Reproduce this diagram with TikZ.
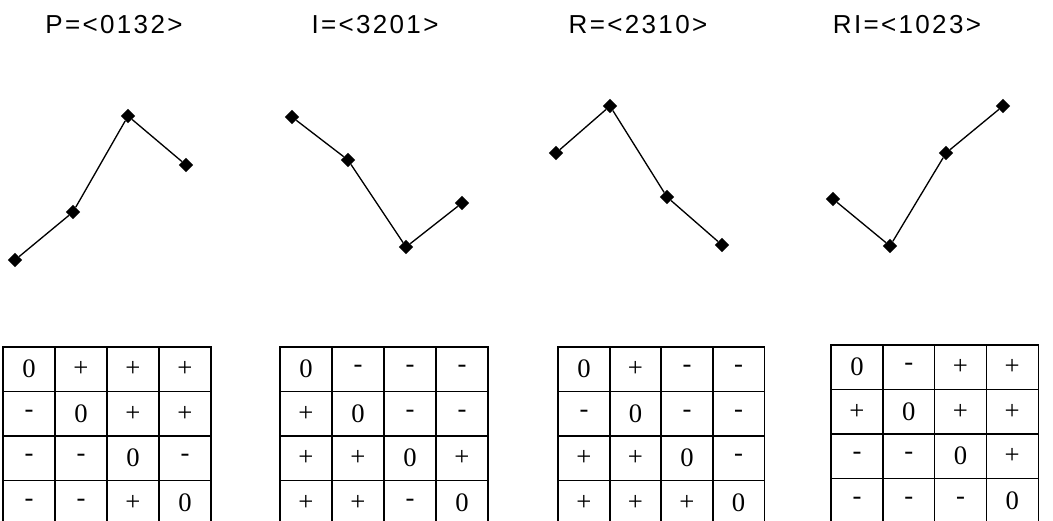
\documentclass[tikz,border=0pt]{standalone}
\usepackage{fontspec}
\setmainfont{Liberation Serif}
\setsansfont{Liberation Sans}
\usetikzlibrary{shapes.geometric,positioning}

\begin{document}
\begin{tikzpicture}[
    x=0.75pt, y=-0.75pt,
    title/.style={anchor=base, font=\sffamily\fontsize{19.5}{21}\selectfont\addfontfeature{LetterSpace=9}},
    point/.style={diamond, fill=black, inner sep=0pt, minimum size=11pt},
    contour/.style={line width=1pt},
    cell/.style={rectangle, draw, line width=1.1pt, inner sep=0pt, minimum width=39pt, minimum height=33.4pt, font=\fontsize{20}{22}\selectfont}
]
    \clip (0,0) rectangle (1053,521);

    % titles
    \node[title] (tP) at (114,33) {P=<0132>};
    \node[title] (tI) at (375,33) {I=<3201>};
    \node[title] (tR) at (638,33) {R=<2310>};
    \node[title] (tRI) at (907,33) {RI=<1023>};

    % contours
    \node[point] (P1) at (15,260) {};
    \node[point] (P2) at (73,212) {};
    \node[point] (P3) at (128,116) {};
    \node[point] (P4) at (186,165) {};
    \draw[contour] (P1) -- (P2) -- (P3) -- (P4);

    \node[point] (I1) at (292,117) {};
    \node[point] (I2) at (348,160) {};
    \node[point] (I3) at (406,247) {};
    \node[point] (I4) at (462,203) {};
    \draw[contour] (I1) -- (I2) -- (I3) -- (I4);

    \node[point] (R1) at (556,153) {};
    \node[point] (R2) at (610,106) {};
    \node[point] (R3) at (667,197) {};
    \node[point] (R4) at (722,245) {};
    \draw[contour] (R1) -- (R2) -- (R3) -- (R4);

    \node[point] (RI1) at (833,199) {};
    \node[point] (RI2) at (890,246) {};
    \node[point] (RI3) at (946,153) {};
    \node[point] (RI4) at (1003,106) {};
    \draw[contour] (RI1) -- (RI2) -- (RI3) -- (RI4);

    % interval tables
    \foreach \row [count=\r] in {{0,+,+,+},{-,0,+,+},{-,-,0,-},{-,-,+,0}}
        \foreach \v [count=\c] in \row
            \node[cell] (P\r\c) at (29+52*\c-52, 369.25+44.5*\r-44.5) {\v};

    \foreach \row [count=\r] in {{0,-,-,-},{+,0,-,-},{+,+,0,+},{+,+,-,0}}
        \foreach \v [count=\c] in \row
            \node[cell] (I\r\c) at (306+52*\c-52, 369.25+44.5*\r-44.5) {\v};

    \foreach \row [count=\r] in {{0,+,-,-},{-,0,-,-},{+,+,0,-},{+,+,+,0}}
        \foreach \v [count=\c] in \row
            \node[cell] (R\r\c) at (584+51.5*\c-51.5, 369.25+44.5*\r-44.5) {\v};

    \foreach \row [count=\r] in {{0,-,+,+},{+,0,+,+},{-,-,0,+},{-,-,-,0}}
        \foreach \v [count=\c] in \row
            \node[cell] (RI\r\c) at (857+51.75*\c-51.75, 367.25+44.5*\r-44.5) {\v};
\end{tikzpicture}
\end{document}
